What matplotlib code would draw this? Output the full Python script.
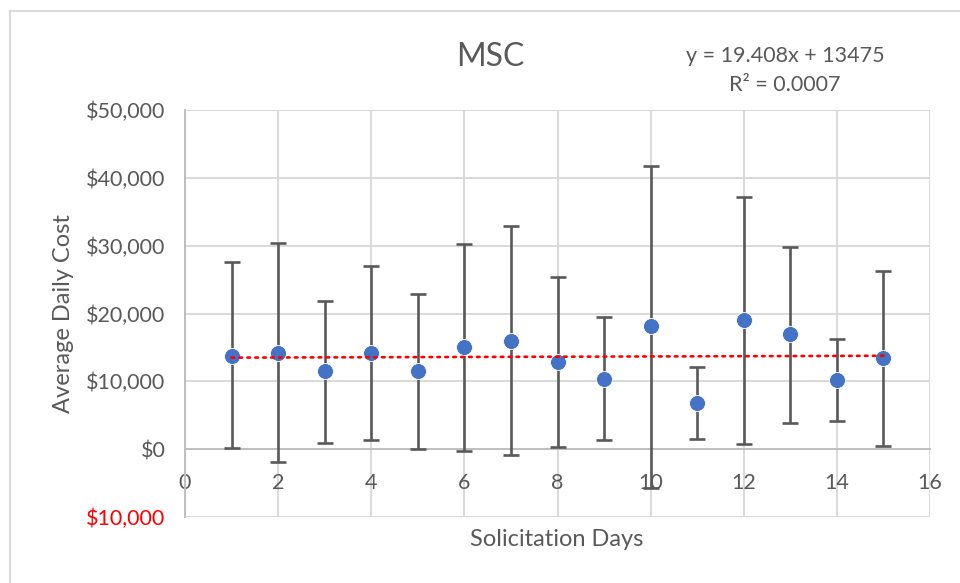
import matplotlib
matplotlib.use("Agg")
import matplotlib.pyplot as plt
from matplotlib.ticker import FuncFormatter, MultipleLocator
from matplotlib.lines import Line2D

plt.rcParams['font.family'] = ['Lato', 'DejaVu Sans']

days = [1, 2, 3, 4, 5, 6, 7, 8, 9, 10, 11, 12, 13, 14, 15]
avg_cost = [13760, 14120, 11500, 14160, 11500, 15090, 15880, 12780, 10320, 18140, 6740, 19070, 17010, 10180, 13420]
upper = [27540, 30380, 21870, 26990, 22820, 30190, 32840, 25320, 19470, 41740, 12050, 37170, 29790, 16220, 26250]
lower = [190, -1920, 930, 1330, 0, -200, -930, 390, 1330, -5750, 1520, 740, 3930, 4180, 540]
slope = 19.408
intercept = 13475
eq_text = "y = 19.408x + 13475"
r2_text = "R\u00b2 = 0.0007"

gray = "#595959"
grid_c = "#d9d9d9"

fig = plt.figure(figsize=(9.6, 5.83), dpi=100)
ax = fig.add_axes([185/960, 1-517/583, (930-185)/960, (517-110)/583])

err_lo = [m - l for m, l in zip(avg_cost, lower)]
err_hi = [u - m for m, u in zip(avg_cost, upper)]

ax.errorbar(days, avg_cost, yerr=[err_lo, err_hi], fmt='none', ecolor="#595959",
            elinewidth=1.9, capsize=5.5, capthick=1.9, zorder=3)
ax.plot(days, avg_cost, 'o', color="#4472C4", markersize=11.5,
        markeredgecolor="#ffffff", markeredgewidth=0.6, zorder=4)

tx = [days[0], days[-1]]
ty = [slope * x + intercept for x in tx]
ax.plot(tx, ty, color="#ff0000", lw=1.9, linestyle=(0, (1, 2)),
        dash_capstyle='round', zorder=5)

ax.set_xlim(0, 16)
ax.set_ylim(-10000, 50000)
ax.xaxis.set_major_locator(MultipleLocator(2))
ax.yaxis.set_major_locator(MultipleLocator(10000))
ax.grid(True, color=grid_c, lw=1.4, zorder=0)
ax.set_axisbelow(True)

for s in ['top', 'right']:
    ax.spines[s].set_visible(False)
ax.spines['bottom'].set_position(('data', 0))
ax.spines['bottom'].set_color("#bfbfbf")
ax.spines['bottom'].set_linewidth(1.4)
ax.spines['left'].set_color("#bfbfbf")
ax.spines['left'].set_linewidth(1.4)

ax.yaxis.set_major_formatter(FuncFormatter(lambda v, p: "${:,.0f}".format(abs(v))))
ax.tick_params(axis='both', length=0, labelsize=15.5, labelcolor=gray)
ax.tick_params(axis='x', pad=17)
ax.tick_params(axis='y', pad=14)
fig.canvas.draw()
for lbl in ax.get_yticklabels():
    if lbl.get_position()[1] < 0:
        lbl.set_color("#ff0000")

fig.text(63/960, 1-314/583, "Average Daily Cost", rotation=90, ha='center', va='center',
         fontsize=17, color=gray)
fig.text(557/960, 1-540/583, "Solicitation Days", ha='center', va='center',
         fontsize=17, color=gray)
fig.text(490/960, 1-57/583, "MSC", ha='center', va='center', fontsize=23, color=gray)
fig.text(785/960, 1-56/583, eq_text, ha='center', va='center', fontsize=15.5, color=gray)
fig.text(785/960, 1-85/583, r2_text, ha='center', va='center', fontsize=15.5, color=gray)

fig.add_artist(Line2D([10/960, 10/960], [0, 1-11/583], transform=fig.transFigure,
                      color="#d9d9d9", lw=1.5))
fig.add_artist(Line2D([10/960, 1], [1-11/583, 1-11/583], transform=fig.transFigure,
                      color="#d9d9d9", lw=1.5))

fig.savefig("out.png", dpi=100)
